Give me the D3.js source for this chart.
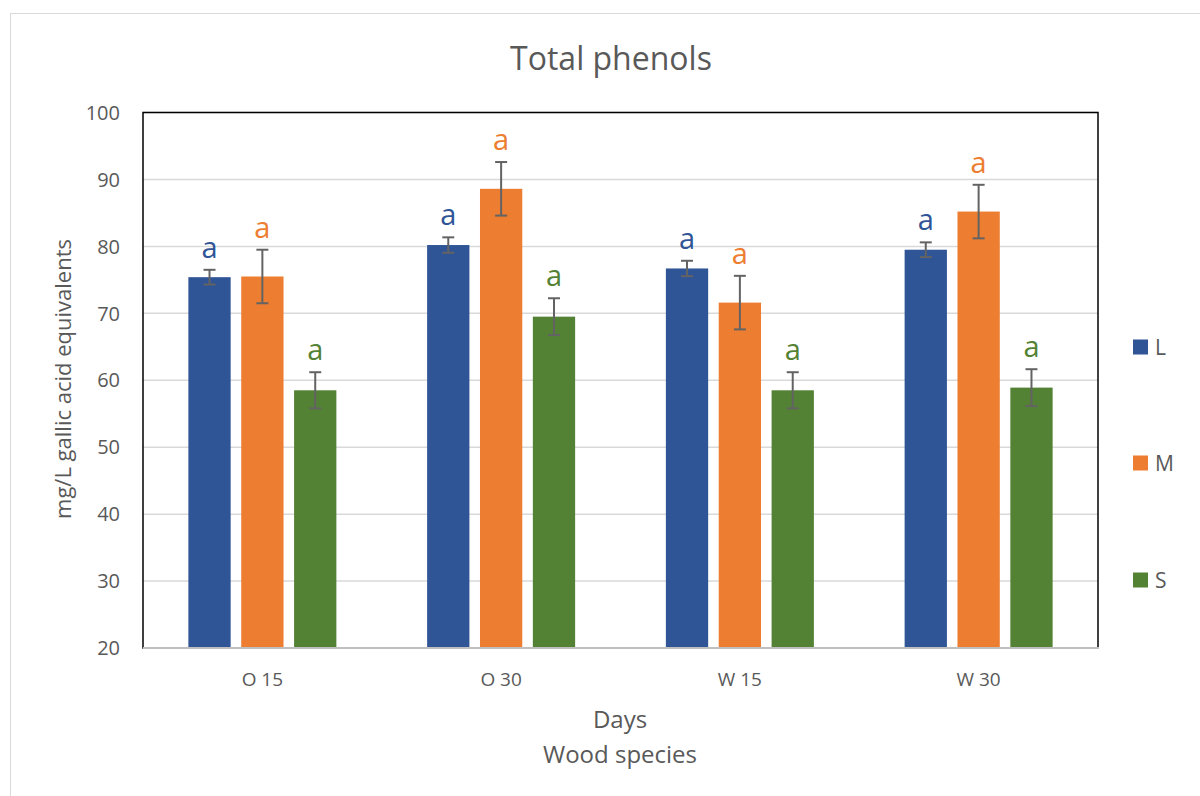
<!DOCTYPE html>
<html>
<head>
<meta charset="utf-8">
<script src="https://cdn.jsdelivr.net/npm/d3@7"></script>
<style>
  body { margin: 0; background: #fff; }
  text { font-family: "Open Sans", "Liberation Sans", sans-serif; fill: #595959; }
</style>
</head>
<body>
<div id="chart"></div>
<script>
// data
const categories = ["O 15", "O 30", "W 15", "W 30"];
const seriesNames = ["L", "M", "S"];
const valuesL = [75.4, 80.2, 76.7, 79.5];
const valuesM = [75.5, 88.6, 71.6, 85.2];
const valuesS = [58.5, 69.5, 58.5, 58.9];
const errL = [1.1, 1.15, 1.15, 1.1];
const errM = [4.0, 4.0, 4.0, 4.0];
const errS = [2.7, 2.75, 2.7, 2.75];
const letters = ["a", "a", "a"];
const yTicks = [20, 30, 40, 50, 60, 70, 80, 90, 100];

function init() {
    var w = 1200;
    var h = 796;
    var left = 143, right = 1098, top = 112.5, bottom = 648;
    const colors = ["#2f5597", "#ed7d31", "#548235"];

    const series = [valuesL, valuesM, valuesS];
    const errors = [errL, errM, errS];

    const svg = d3.select("#chart")
        .append("svg")
        .attr("width", w)
        .attr("height", h);

    // outer chart border
    svg.append("rect")
        .attr("x", 10.5).attr("y", 13.5)
        .attr("width", 1200).attr("height", 800)
        .attr("fill", "#fff")
        .attr("stroke", "#d9d9d9");

    const xScale = d3.scaleBand()
        .domain(categories)
        .range([left, right]);

    const xInner = d3.scaleBand()
        .domain(seriesNames)
        .range([0, 148])
        .paddingInner(0.2);

    const yScale = d3.scaleLinear()
        .domain([20, 100])
        .range([bottom, top]);

    // gridlines
    svg.append("g")
        .selectAll("line")
        .data(yTicks.slice(1))
        .enter()
        .append("line")
        .attr("x1", left).attr("x2", right)
        .attr("y1", d => yScale(d)).attr("y2", d => yScale(d))
        .attr("stroke", "#d9d9d9")
        .attr("stroke-width", 1.5);

    // y tick labels
    svg.append("g")
        .selectAll("text")
        .data(yTicks)
        .enter()
        .append("text")
        .attr("x", 120)
        .attr("y", d => yScale(d))
        .attr("dy", "0.36em")
        .attr("text-anchor", "end")
        .style("font-size", "20px")
        .text(d => d);

    // bars
    series.forEach((vals, s) => {
        const g = svg.append("g");
        const bx = c => xScale(c) + (xScale.bandwidth() - 148) / 2 + xInner(seriesNames[s]);
        g.selectAll("rect")
            .data(categories)
            .enter()
            .append("rect")
            .attr("x", c => bx(c))
            .attr("y", (c, i) => yScale(vals[i]))
            .attr("width", xInner.bandwidth())
            .attr("height", (c, i) => yScale(20) - yScale(vals[i]))
            .attr("fill", colors[s]);

        // error bars
        const cx = c => bx(c) + xInner.bandwidth() / 2;
        const eb = g.selectAll("g.err")
            .data(categories)
            .enter()
            .append("g")
            .attr("stroke", "#636363")
            .attr("stroke-width", 2);
        eb.append("line")
            .attr("x1", c => cx(c)).attr("x2", c => cx(c))
            .attr("y1", (c, i) => yScale(vals[i] + errors[s][i]))
            .attr("y2", (c, i) => yScale(vals[i] - errors[s][i]));
        eb.append("line")
            .attr("x1", c => cx(c) - 6).attr("x2", c => cx(c) + 6)
            .attr("y1", (c, i) => yScale(vals[i] + errors[s][i]))
            .attr("y2", (c, i) => yScale(vals[i] + errors[s][i]));
        eb.append("line")
            .attr("x1", c => cx(c) - 6).attr("x2", c => cx(c) + 6)
            .attr("y1", (c, i) => yScale(vals[i] - errors[s][i]))
            .attr("y2", (c, i) => yScale(vals[i] - errors[s][i]));

        // significance letters
        g.selectAll("text")
            .data(categories)
            .enter()
            .append("text")
            .attr("x", c => cx(c))
            .attr("y", (c, i) => yScale(vals[i] + errors[s][i]) - 12)
            .attr("text-anchor", "middle")
            .style("font-size", "29px")
            .style("fill", colors[s])
            .text(letters[s]);
    });

    // plot border
    svg.append("rect")
        .attr("x", left).attr("y", top)
        .attr("width", right - left).attr("height", bottom - top)
        .attr("fill", "none")
        .attr("stroke", "#000")
        .attr("stroke-width", 1.5);

    // bottom axis line
    svg.append("line")
        .attr("x1", left).attr("x2", right + 1)
        .attr("y1", bottom).attr("y2", bottom)
        .attr("stroke", "#bfbfbf")
        .attr("stroke-width", 2);

    // x category labels
    svg.append("g")
        .selectAll("text")
        .data(categories)
        .enter()
        .append("text")
        .attr("x", c => xScale(c) + xScale.bandwidth() / 2)
        .attr("y", 686)
        .attr("text-anchor", "middle")
        .style("font-size", "19px")
        .text(d => d);

    // titles
    svg.append("text")
        .attr("x", 611).attr("y", 70)
        .attr("text-anchor", "middle")
        .style("font-size", "32px")
        .text("Total phenols");

    svg.append("text")
        .attr("x", 620).attr("y", 728)
        .attr("text-anchor", "middle")
        .style("font-size", "24px")
        .text("Days");

    svg.append("text")
        .attr("x", 620).attr("y", 763)
        .attr("text-anchor", "middle")
        .style("font-size", "24px")
        .text("Wood species");

    svg.append("text")
        .attr("transform", "translate(71, 379) rotate(-90)")
        .attr("text-anchor", "middle")
        .style("font-size", "22px")
        .text("mg/L gallic acid equivalents");

    // legend
    const legendY = [347, 463, 580];
    const lg = svg.append("g")
        .selectAll("g")
        .data(seriesNames)
        .enter()
        .append("g")
        .attr("transform", (d, i) => `translate(1133, ${legendY[i]})`);
    lg.append("rect")
        .attr("x", 0).attr("y", -7.5)
        .attr("width", 15).attr("height", 15)
        .attr("fill", (d, i) => colors[i]);
    lg.append("text")
        .attr("x", 22).attr("y", 0)
        .attr("dy", "0.36em")
        .style("font-size", "21px")
        .text(d => d);
}

window.onload = init;
</script>
</body>
</html>
